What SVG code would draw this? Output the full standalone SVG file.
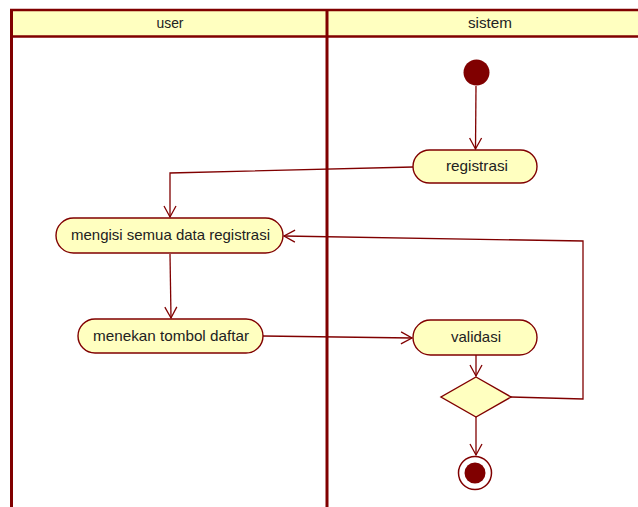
<svg xmlns="http://www.w3.org/2000/svg" width="638" height="507" viewBox="0 0 638 507">
  <style>
    .lane-head { fill: #FFFFC0; stroke: none; }
    .lane-line { stroke: #800000; fill: none; }
    .action { fill: #FFFFC0; stroke: #800000; stroke-width: 1.4; }
    .label { font-family: "Liberation Sans", Arial, sans-serif; font-size: 14.5px; fill: #222; text-anchor: middle; }
    .flow { fill: none; stroke: #800000; stroke-width: 1.3; marker-end: url(#open-arrow); }
  </style>
  <defs>
    <marker id="open-arrow" markerUnits="userSpaceOnUse" markerWidth="14" markerHeight="14" viewBox="0 0 12 14" refX="11" refY="7" orient="auto">
      <path d="M0,1 L11,7 L0,13" fill="none" stroke="#800000" stroke-width="1.3"/>
    </marker>
  </defs>
  <rect width="638" height="507" fill="#ffffff"/>

  <!-- swimlanes -->
  <g id="lanes">
    <rect class="lane-head" x="11" y="10" width="627" height="26"/>
    <line class="lane-line" x1="10" y1="10" x2="638" y2="10" stroke-width="2.5"/>
    <line class="lane-line" x1="10" y1="36.5" x2="638" y2="36.5" stroke-width="2.5"/>
    <line class="lane-line" x1="11.5" y1="9" x2="11.5" y2="507" stroke-width="3"/>
    <line class="lane-line" x1="327" y1="9" x2="327" y2="507" stroke-width="3"/>
    <text class="label" x="170" y="28" textLength="27" lengthAdjust="spacingAndGlyphs">user</text>
    <text class="label" x="490" y="28" textLength="44" lengthAdjust="spacingAndGlyphs">sistem</text>
  </g>

  <!-- connectors -->
  <g id="connectors">
    <polyline class="flow" points="476,86 475.5,149"/>
    <polyline class="flow" points="413,167 170,173 170,217"/>
    <polyline class="flow" points="170,254 171,318"/>
    <polyline class="flow" points="263,336 412,338"/>
    <polyline class="flow" points="476,355 476,376"/>
    <polyline class="flow" points="511,397 583,399 583,241 284,236"/>
    <polyline class="flow" points="476,417 476,455"/>
  </g>

  <!-- nodes -->
  <g id="start">
    <circle cx="476.5" cy="72.5" r="13" fill="#800000"/>
  </g>
  <g id="registrasi">
    <rect class="action" x="413" y="150" width="124" height="33" rx="16.5"/>
    <text class="label" x="477" y="171" textLength="62" lengthAdjust="spacingAndGlyphs">registrasi</text>
  </g>
  <g id="mengisi">
    <rect class="action" x="56" y="218" width="227" height="35" rx="17.5"/>
    <text class="label" x="170.5" y="240" textLength="199" lengthAdjust="spacingAndGlyphs">mengisi semua data registrasi</text>
  </g>
  <g id="menekan">
    <rect class="action" x="78" y="319" width="185" height="34" rx="17"/>
    <text class="label" x="171" y="341" textLength="156" lengthAdjust="spacingAndGlyphs">menekan tombol daftar</text>
  </g>
  <g id="validasi">
    <rect class="action" x="413" y="320" width="124" height="35" rx="17.5"/>
    <text class="label" x="476" y="342" textLength="50" lengthAdjust="spacingAndGlyphs">validasi</text>
  </g>
  <g id="keputusan">
    <polygon class="action" points="476,377 511,397 476,417 441,397"/>
  </g>
  <g id="end">
    <circle cx="475" cy="473" r="16.5" fill="#ffffff" stroke="#800000" stroke-width="1.5"/>
    <circle cx="475" cy="473" r="10.5" fill="#800000"/>
  </g>
</svg>
